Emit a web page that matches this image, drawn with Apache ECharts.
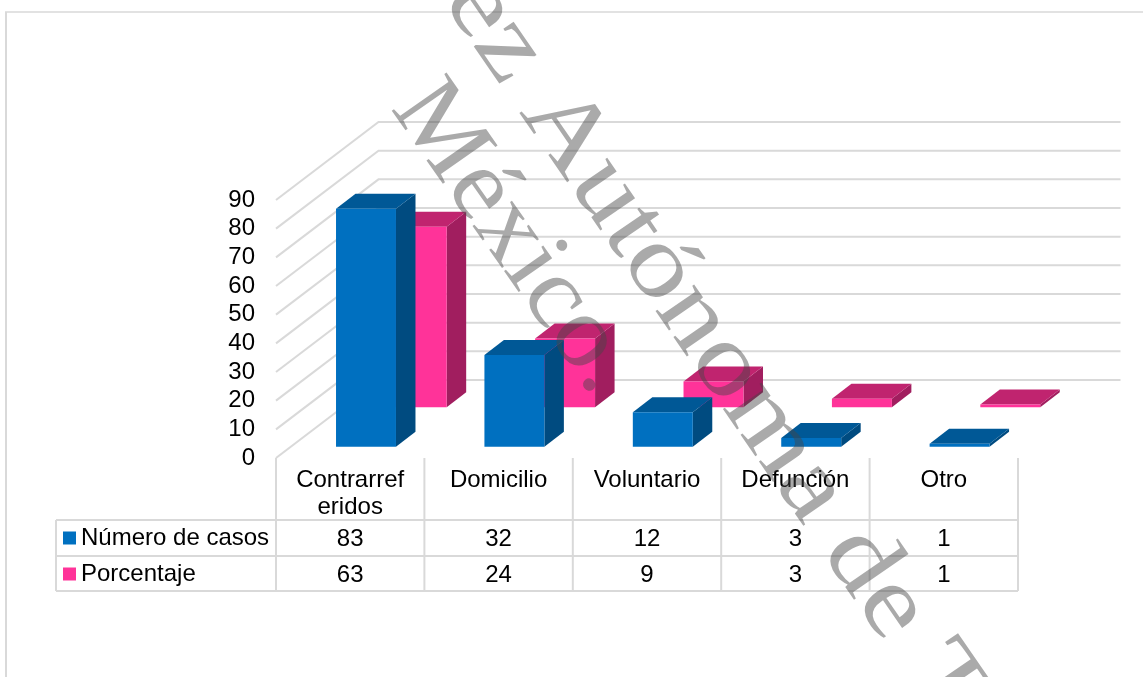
<!DOCTYPE html>
<html>
<head>
<meta charset="utf-8">
<style>html,body{margin:0;padding:0;background:#fff}#chart{width:1143px;height:677px}</style>
<script src="https://cdn.jsdelivr.net/npm/echarts@6/dist/echarts.min.js"></script>
</head>
<body>
<div id="chart"></div>
<script>
// Motivo de egreso: number of cases and percentage per category
const categories = ['Contrarreferidos', 'Domicilio', 'Voluntario', 'Defunción', 'Otro'];
const numeroCasos = [83, 32, 12, 3, 1];
const porcentaje = [63, 24, 9, 3, 1];
const yTicks = [0, 10, 20, 30, 40, 50, 60, 70, 80, 90];
const seriesNames = ['Número de casos', 'Porcentaje'];

// Pseudo-3D geometry, in pixels
const GRID = { left: 276, top: 200, width: 742, height: 258 };
const WALL = { dx: 102.5, dy: 78 };
const BAR = { width: 0.404, dx: 19.5, dy: 15 };
const ROWS = { blue: { dx: 15.8, dy: 11.3 }, pink: { dx: 66.5, dy: 50.7 } };
const LINE = '#d9d9d9';
const FONT = 'Liberation Sans, Arial, sans-serif';
const FS = 24;

function poly(points, fill) {
  return { type: 'polygon', shape: { points }, style: { fill, stroke: null }, silent: true };
}

// One box: front, top and right faces shifted back along the floor
function barRenderer(row, front, top, side) {
  return function (params, api) {
    const i = api.value(0);
    const base = api.coord([i, 0]);
    const peak = api.coord([i, api.value(1)]);
    const w = api.size([1, 0])[0] * BAR.width;
    const l = base[0] + row.dx - w / 2, r = l + w;
    const y0 = base[1] - row.dy, y1 = peak[1] - row.dy;
    return {
      type: 'group',
      children: [
        poly([[r, y0], [r + BAR.dx, y0 - BAR.dy], [r + BAR.dx, y1 - BAR.dy], [r, y1]], side),
        poly([[l, y1], [r, y1], [r + BAR.dx, y1 - BAR.dy], [l + BAR.dx, y1 - BAR.dy]], top),
        poly([[l, y0], [r, y0], [r, y1], [l, y1]], front)
      ]
    };
  };
}

// Side and back wall gridline for one tick value
function wallRenderer(params, api) {
  const band = api.size([1, 0])[0];
  const first = api.coord([0, api.value(0)]);
  const last = api.coord([categories.length - 1, api.value(0)]);
  const x0 = first[0] - band / 2, y = first[1];
  return {
    type: 'polyline',
    silent: true,
    shape: { points: [[x0, y], [x0 + WALL.dx, y - WALL.dy], [last[0] + band / 2 + WALL.dx, y - WALL.dy]] },
    style: { stroke: LINE, lineWidth: 2, fill: null }
  };
}

// Data table cell under each category
const rowCentres = [539, 575];
function cellRenderer(params, api) {
  const p = api.coord([api.value(0), 0]);
  return {
    type: 'text', silent: true, x: p[0], y: rowCentres[api.value(1)],
    style: { text: String(api.value(2)), font: FS + 'px ' + FONT, fill: '#000', align: 'center', verticalAlign: 'middle' }
  };
}

const cells = [];
[numeroCasos, porcentaje].forEach((vals, r) => vals.forEach((v, c) => cells.push([c, r, v])));

// Table rules and chart frame
const tableY = [520, 556, 591];
const tableX = [276, 424.4, 572.8, 721.2, 869.6, 1018];
function rule(x1, y1, x2, y2, w) {
  return { type: 'line', silent: true, z: 1, shape: { x1, y1, x2, y2 }, style: { stroke: LINE, lineWidth: w || 2 } };
}
const rules = [
  rule(5, 12, 1143, 12, 1.5), rule(6, 12, 6, 677, 2),
  rule(56, 520, 56, 591)
].concat(tableY.map(y => rule(56, y, 1018, y)), tableX.map(x => rule(x, 458, x, 591)));

// Diagonal stamp across the sheet
function stamp(text, x, y, size, stretch, degrees) {
  return {
    type: 'text', silent: true, z: 50, x, y, scaleX: stretch, rotation: -degrees * Math.PI / 180,
    style: { text, font: size + 'px Liberation Serif, Times New Roman, serif', fill: 'rgba(70,70,70,0.46)', align: 'left', verticalAlign: 'middle' }
  };
}

const chart = echarts.init(document.getElementById('chart'));
chart.setOption({
  animation: false,
  backgroundColor: '#fff',
  grid: { left: GRID.left, top: GRID.top, width: GRID.width, height: GRID.height },
  legend: {
    data: seriesNames, orient: 'vertical', left: 58, top: 521, itemWidth: 13, itemHeight: 13, itemGap: 12,
    icon: 'rect', selectedMode: false,
    textStyle: { fontFamily: FONT, fontSize: FS, color: '#000' }
  },
  xAxis: {
    type: 'category', data: categories,
    axisLine: { show: false }, axisTick: { show: false }, splitLine: { show: false },
    axisLabel: {
      interval: 0, margin: 9, color: '#000', fontFamily: FONT, fontSize: FS, lineHeight: 27, align: 'center', verticalAlign: 'top',
      formatter: v => v.length > 10 ? v.slice(0, 10) + '\n' + v.slice(10) : v
    }
  },
  yAxis: {
    type: 'value', min: 0, max: 90, interval: 10,
    axisLine: { show: false }, axisTick: { show: false }, splitLine: { show: false },
    axisLabel: { margin: 21, color: '#000', fontFamily: FONT, fontSize: FS, padding: [3, 0, 0, 0] }
  },
  series: [
    { type: 'custom', name: 'walls', z: 2, data: yTicks.map(v => [v]), encode: { y: 0 }, renderItem: wallRenderer, silent: true },
    { type: 'custom', name: seriesNames[1], z: 3, itemStyle: { color: '#FF3399' }, data: porcentaje.map((v, i) => [i, v]), encode: { x: 0, y: 1 },
      renderItem: barRenderer(ROWS.pink, '#FF3399', '#C0246F', '#A11E5F'), silent: true },
    { type: 'custom', name: seriesNames[0], z: 4, itemStyle: { color: '#0070C0' }, data: numeroCasos.map((v, i) => [i, v]), encode: { x: 0, y: 1 },
      renderItem: barRenderer(ROWS.blue, '#0070C0', '#005896', '#004B80'), silent: true },
    { type: 'custom', name: 'cells', z: 5, data: cells, encode: { x: 0 }, renderItem: cellRenderer, silent: true }
  ],
  graphic: rules.concat([
    stamp('ez Autónoma de T', 464, -15, 102, 1.17, 55.5),
    stamp('México.', 412, 93, 102, 1.05, 55)
  ])
});
</script>
</body>
</html>
